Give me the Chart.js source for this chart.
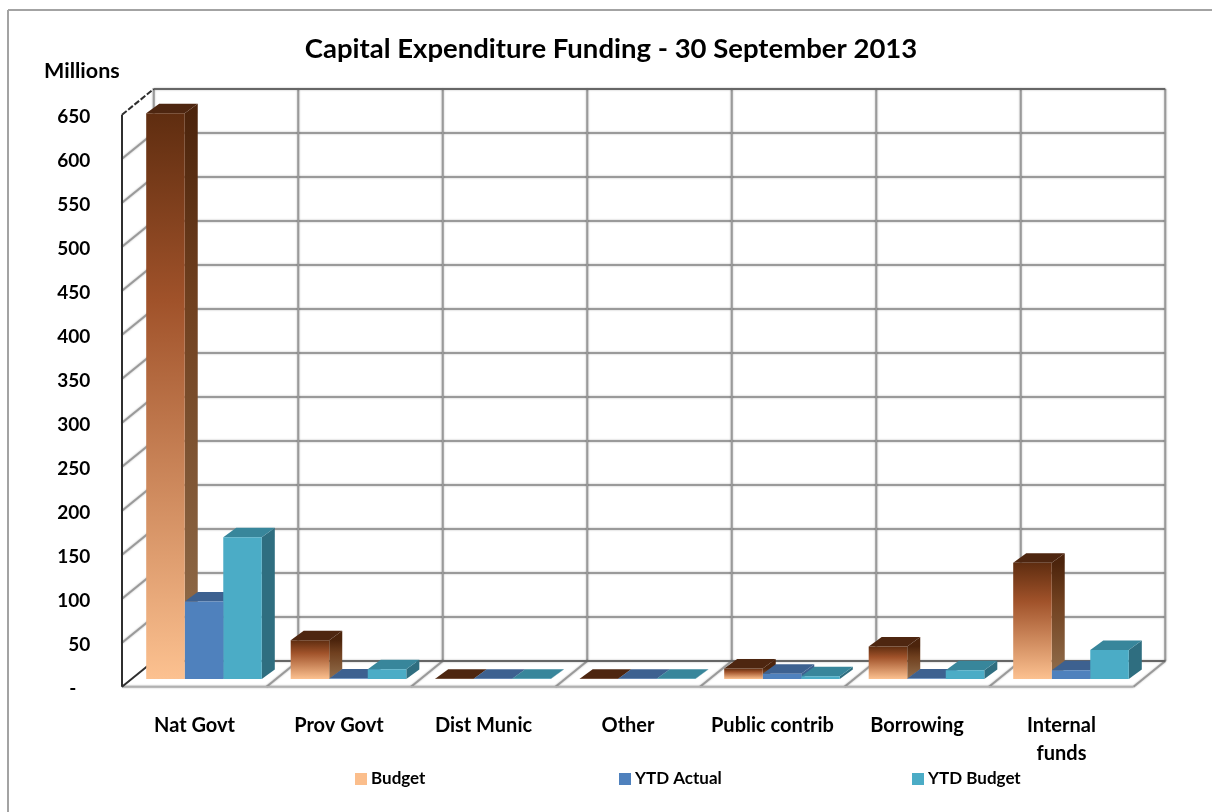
<!DOCTYPE html>
<html>
<head>
<meta charset="utf-8">
<title>Capital Expenditure Funding</title>
<script src="https://cdn.jsdelivr.net/npm/chart.js@4"></script>
<style>
  html, body { margin: 0; padding: 0; background: #ffffff; overflow: hidden; }
  canvas { display: block; }
</style>
</head>
<body>
<canvas id="funding" width="1212" height="812"></canvas>
<script>
const categories = ['Nat Govt', 'Prov Govt', 'Dist Munic', 'Other', 'Public contrib', 'Borrowing', ['Internal', 'funds']];
const seriesNames = ['Budget', 'YTD Actual', 'YTD Budget'];
const budget = [643, 44, 0.4, 0.4, 12, 37, 132];
const ytdActual = [88, 0.5, 0.2, 0.2, 6, 0.5, 10];
const ytdBudget = [161, 11, 0.2, 0.2, 3, 10, 33];
const yTicks = [0, 50, 100, 150, 200, 250, 300, 350, 400, 450, 500, 550, 600, 650];
const zeroLabel = '-   ';
const titleText = 'Capital Expenditure Funding - 30 September 2013';
const unitLabel = 'Millions';

const FONT = 'Lato, sans-serif';

// offsets of the floor's front edge and the back wall from the plane the bars stand in
const FRONT = { x: -9.75, y: 7.7 };
const BACK = { x: 22, y: -18 };
const BAR_DEPTH = { x: 13, y: -9.5 };

const barColors = [
    { stops: ['#5f2d10', '#a0522a', '#fcc190'], side: ['#4c240c', '#70401f', '#93704e'], top: '#4e2610', key: '#fbbe8c' },
    { stops: ['#4f81bd', '#4f81bd', '#4f81bd'], side: ['#3d6190', '#3d6190', '#3d6190'], top: '#3d6190', key: '#4f81bd' },
    { stops: ['#4bacc6', '#4bacc6', '#4bacc6'], side: ['#2f6e80', '#2f6e80', '#2f6e80'], top: '#38869b', key: '#4bacc6' }
];

function barGradient(ctx, stops, top, bottom) {
    const g = ctx.createLinearGradient(0, top, 0, bottom);
    g.addColorStop(0, stops[0]);
    g.addColorStop(0.33, stops[1]);
    g.addColorStop(1, stops[2]);
    return g;
}

function frontFill(seriesIndex) {
    return function (context) {
        const y = context.chart.scales.y;
        if (context.type !== 'data' || !y) {
            return barColors[seriesIndex].key;
        }
        const top = y.getPixelForValue(context.raw);
        const bottom = y.getPixelForValue(0);
        if (!isFinite(top) || !isFinite(bottom)) {
            return barColors[seriesIndex].key;
        }
        return barGradient(context.chart.ctx, barColors[seriesIndex].stops, top, bottom);
    };
}

function line(ctx, x1, y1, x2, y2) {
    ctx.beginPath();
    ctx.moveTo(x1, y1);
    ctx.lineTo(x2, y2);
    ctx.stroke();
}

function quad(ctx, pts, fill) {
    ctx.beginPath();
    ctx.moveTo(pts[0][0], pts[0][1]);
    for (let i = 1; i < pts.length; i++) {
        ctx.lineTo(pts[i][0], pts[i][1]);
    }
    ctx.closePath();
    ctx.fillStyle = fill;
    ctx.fill();
}

// walls and floor, everything is placed from the chart's own scales
const wallsPlugin = {
    id: 'walls',
    afterLayout(chart) {
        // the scale clips its labels to its box, and the labels stand well left of it
        chart.scales.y.left = 0;
    },
    beforeDatasetsDraw(chart) {
        const ctx = chart.ctx;
        const ys = chart.scales.y;
        const left = chart.chartArea.left;
        const right = chart.chartArea.right;
        const step = (right - left) / categories.length;
        const bottom = ys.getPixelForValue(0);
        const top = ys.getPixelForValue(yTicks[yTicks.length - 1]);

        ctx.save();
        ctx.lineWidth = 2;

        // frame round the whole picture
        ctx.strokeStyle = '#a3a3a3';
        line(ctx, 8, 10, chart.width, 10);
        line(ctx, 8, 10, 8, chart.height);

        ctx.shadowColor = 'rgba(0,0,0,0.3)';
        ctx.shadowBlur = 2;
        ctx.strokeStyle = '#9a9a9a';
        yTicks.forEach(function (v) {
            const y = ys.getPixelForValue(v);
            if (v !== 0 && v !== yTicks[yTicks.length - 1]) {
                line(ctx, left + BACK.x, y + BACK.y, right + BACK.x, y + BACK.y);
                line(ctx, left + FRONT.x, y + FRONT.y, left + BACK.x, y + BACK.y);
            }
        });
        for (let i = 0; i <= categories.length; i++) {
            const x = left + step * i;
            line(ctx, x + BACK.x, top + BACK.y, x + BACK.x, bottom + BACK.y);
            if (i > 0) {
                line(ctx, x + FRONT.x, bottom + FRONT.y, x + BACK.x, bottom + BACK.y);
            }
        }
        ctx.strokeStyle = '#b0b0b0';
        line(ctx, left + FRONT.x, bottom + FRONT.y, right + FRONT.x, bottom + FRONT.y);

        ctx.strokeStyle = '#666666';
        line(ctx, left + BACK.x, top + BACK.y, right + BACK.x, top + BACK.y);
        line(ctx, left + BACK.x, bottom + BACK.y, right + BACK.x, bottom + BACK.y);
        ctx.shadowBlur = 0;
        ctx.shadowColor = 'transparent';
        ctx.strokeStyle = '#2f2f2f';
        line(ctx, left + FRONT.x, top + FRONT.y, left + FRONT.x, bottom + FRONT.y);
        line(ctx, left + FRONT.x, bottom + FRONT.y, left + BACK.x, bottom + BACK.y);
        ctx.setLineDash([6, 2]);
        line(ctx, left + FRONT.x, top + FRONT.y, left + BACK.x, top + BACK.y);
        ctx.setLineDash([]);

        // tops and sides of the bars go under the library's front faces
        categories.forEach(function (c, j) {
            chart.data.datasets.forEach(function (ds, i) {
                const bar = chart.getDatasetMeta(i).data[j];
                const l = bar.x - bar.width / 2;
                const r = bar.x + bar.width / 2;
                const dx = BAR_DEPTH.x;
                const dy = BAR_DEPTH.y;
                quad(ctx, [[r, bar.y], [r + dx, bar.y + dy], [r + dx, bar.base + dy], [r, bar.base]],
                    barGradient(ctx, barColors[i].side, bar.y, bar.base));
                quad(ctx, [[l, bar.y], [l + dx, bar.y + dy], [r + dx, bar.y + dy], [r, bar.y]], barColors[i].top);
            });
        });
        ctx.restore();
    },
    afterDraw(chart) {
        const ctx = chart.ctx;
        const legendX = [355, 619, 912];
        ctx.save();
        ctx.fillStyle = '#000000';
        ctx.font = 'bold 21.5px ' + FONT;
        ctx.textBaseline = 'middle';
        ctx.textAlign = 'left';
        ctx.fillText(unitLabel, 44, 71);

        ctx.font = 'bold 17px ' + FONT;
        chart.data.datasets.forEach(function (ds, i) {
            ctx.fillStyle = barColors[i].key;
            ctx.fillRect(legendX[i], 773, 12, 12);
            ctx.fillStyle = '#000000';
            ctx.fillText(ds.label, legendX[i] + 16, 779);
        });
        ctx.restore();
    }
};

new Chart(document.getElementById('funding').getContext('2d'), {
    type: 'bar',
    data: {
        labels: categories,
        datasets: [
            { label: seriesNames[0], data: budget, backgroundColor: frontFill(0), borderWidth: 0 },
            { label: seriesNames[1], data: ytdActual, backgroundColor: frontFill(1), borderWidth: 0 },
            { label: seriesNames[2], data: ytdBudget, backgroundColor: frontFill(2), borderWidth: 0 }
        ]
    },
    options: {
        responsive: false,
        animation: false,
        layout: { padding: { left: 78.75, right: 68.75, top: 0, bottom: 0 } },
        datasets: { bar: { barPercentage: 1, categoryPercentage: 0.8 } },
        plugins: {
            legend: { display: false },
            tooltip: { enabled: false },
            title: {
                display: true,
                text: titleText,
                color: '#000000',
                font: { family: FONT, size: 27.5, weight: 'bold', lineHeight: 1.2 },
                padding: { top: 33, bottom: 41 }
            }
        },
        scales: {
            x: {
                grid: { display: false, drawTicks: false },
                border: { display: false },
                afterFit(scale) { scale.height = 133; },
                ticks: {
                    color: '#000000',
                    font: { family: FONT, size: 20, weight: 'bold', lineHeight: 1.4 },
                    padding: 33,
                    labelOffset: -9.5,
                    autoSkip: false,
                    maxRotation: 0
                }
            },
            y: {
                min: 0,
                max: 650,
                grid: { display: false, drawTicks: false },
                border: { display: false },
                afterFit(scale) { scale.width = 53; },
                afterBuildTicks(scale) { scale.ticks = yTicks.map(function (v) { return { value: v }; }); },
                ticks: {
                    color: '#000000',
                    font: { family: FONT, size: 19, weight: 'bold' },
                    padding: 41.5,
                    labelOffset: 10,
                    callback: function (value) { return value === 0 ? zeroLabel : value; }
                }
            }
        }
    },
    plugins: [wallsPlugin]
});
</script>
</body>
</html>
